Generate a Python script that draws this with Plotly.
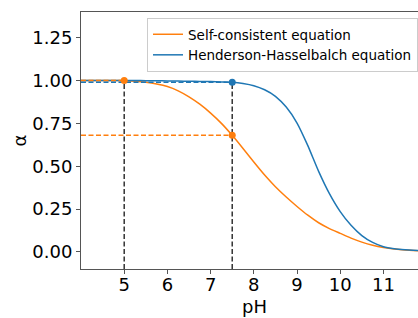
import plotly.graph_objects as go

# pH grid and read-off curve values
ph = [4.0, 4.25, 4.5, 4.75, 5.0, 5.25, 5.5, 5.75, 6.0, 6.25, 6.5, 6.75, 7.0, 7.25, 7.5, 7.75,
      8.0, 8.25, 8.5, 8.75, 9.0, 9.25, 9.5, 9.75, 10.0, 10.25, 10.5, 10.75, 11.0, 11.25, 11.5, 11.8]
alpha_self = [1.0, 1.0, 1.0, 1.0, 0.999, 0.996, 0.99, 0.98, 0.965, 0.94, 0.905, 0.862, 0.81, 0.75,
              0.68, 0.603, 0.524, 0.448, 0.38, 0.32, 0.265, 0.214, 0.17, 0.136, 0.108, 0.08, 0.057,
              0.039, 0.026, 0.017, 0.011, 0.007]
alpha_hh = [1.0, 1.0, 1.0, 1.0, 1.0, 1.0, 0.999, 0.999, 0.998, 0.997, 0.996, 0.995, 0.994, 0.992,
            0.99, 0.983, 0.97, 0.946, 0.908, 0.845, 0.752, 0.62, 0.47, 0.34, 0.235, 0.155, 0.095,
            0.055, 0.03, 0.018, 0.012, 0.008]

# highlighted points
pt_ph = [5.0, 7.5]
pt_self = [1.0, 0.68]
pt_hh = [0.99]

x_range = [4.0, 11.8]
y_range = [-0.1, 1.4]
x_ticks = [5, 6, 7, 8, 9, 10, 11]
y_ticks = [0.0, 0.25, 0.5, 0.75, 1.0, 1.25]
y_tick_text = ["0.00", "0.25", "0.50", "0.75", "1.00", "1.25"]

ORANGE = "#ff7f0e"
BLUE = "#1f77b4"
DARK = "#333333"
DASH = "5px,2.5px"

fig = go.Figure()

# vertical dashed guides
fig.add_trace(go.Scatter(x=[pt_ph[0], pt_ph[0]], y=[y_range[0], pt_self[0]], mode="lines",
                         line=dict(color=DARK, width=1.5, dash=DASH), showlegend=False, hoverinfo="skip"))
fig.add_trace(go.Scatter(x=[pt_ph[1], pt_ph[1]], y=[y_range[0], pt_hh[0]], mode="lines",
                         line=dict(color=DARK, width=1.5, dash=DASH), showlegend=False, hoverinfo="skip"))

# curves
fig.add_trace(go.Scatter(x=ph, y=alpha_self, mode="lines", name="Self-consistent equation",
                         line=dict(color=ORANGE, width=1.5, shape="spline", smoothing=0.5)))
fig.add_trace(go.Scatter(x=ph, y=alpha_hh, mode="lines", name="Henderson-Hasselbalch equation",
                         line=dict(color=BLUE, width=1.5, shape="spline", smoothing=0.5)))

# horizontal dashed guides
fig.add_trace(go.Scatter(x=[x_range[0], pt_ph[0]], y=[pt_self[0], pt_self[0]], mode="lines",
                         line=dict(color=ORANGE, width=1.5, dash=DASH), showlegend=False, hoverinfo="skip"))
fig.add_trace(go.Scatter(x=[x_range[0], pt_ph[1]], y=[pt_hh[0], pt_hh[0]], mode="lines",
                         line=dict(color=BLUE, width=1.5, dash=DASH), showlegend=False, hoverinfo="skip"))
fig.add_trace(go.Scatter(x=[x_range[0], pt_ph[1]], y=[pt_self[1], pt_self[1]], mode="lines",
                         line=dict(color=ORANGE, width=1.5, dash=DASH), showlegend=False, hoverinfo="skip"))

# markers
fig.add_trace(go.Scatter(x=[pt_ph[1]], y=[pt_hh[0]], mode="markers",
                         marker=dict(color=BLUE, size=7), showlegend=False))
fig.add_trace(go.Scatter(x=pt_ph, y=pt_self, mode="markers",
                         marker=dict(color=ORANGE, size=7), showlegend=False))

W, H = 418, 318
plot_l, plot_r, plot_t, plot_b = 81, 0, 12, 49
pw = W - plot_l - plot_r
ph_px = H - plot_t - plot_b
fig.update_layout(
    width=W, height=H,
    margin=dict(l=plot_l, r=plot_r, t=plot_t, b=plot_b, pad=0, autoexpand=False),
    paper_bgcolor="white", plot_bgcolor="white",
    font=dict(family="DejaVu Sans", size=18, color="black"),
    showlegend=True,
    legend=dict(x=(147 - plot_l) / pw, y=1 - (18 - plot_t) / ph_px, xanchor="left", yanchor="top",
                bgcolor="white", bordercolor="#cccccc", borderwidth=1,
                font=dict(size=13.5), tracegroupgap=0),
    xaxis=dict(range=x_range, tickvals=x_ticks, showgrid=False, zeroline=False, automargin=False,
               showline=True, linecolor="#555555", linewidth=1, mirror=True,
               ticks="outside", ticklen=4, tickcolor="#555555", ticklabelstandoff=-5,
               tickfont=dict(size=18)),
    yaxis=dict(range=y_range, tickvals=y_ticks, ticktext=y_tick_text, showgrid=False, zeroline=False,
               automargin=False,
               showline=True, linecolor="#555555", linewidth=1,
               ticks="outside", ticklen=4, tickcolor="#555555",
               tickfont=dict(size=18)),
    annotations=[
        dict(text="pH", xref="paper", yref="paper", x=(254 - plot_l) / pw, y=(269 - 306) / ph_px,
             xanchor="center", yanchor="middle", showarrow=False, font=dict(size=18)),
        dict(text="α", xref="paper", yref="paper", x=(19 - plot_l) / pw, y=0.5, textangle=-90,
             xanchor="center", yanchor="middle", showarrow=False, font=dict(size=18)),
    ],
)

fig.write_html("out.html", config={"displayModeBar": False},
               post_script="document.body.style.margin='0px';document.body.style.overflow='hidden';")
